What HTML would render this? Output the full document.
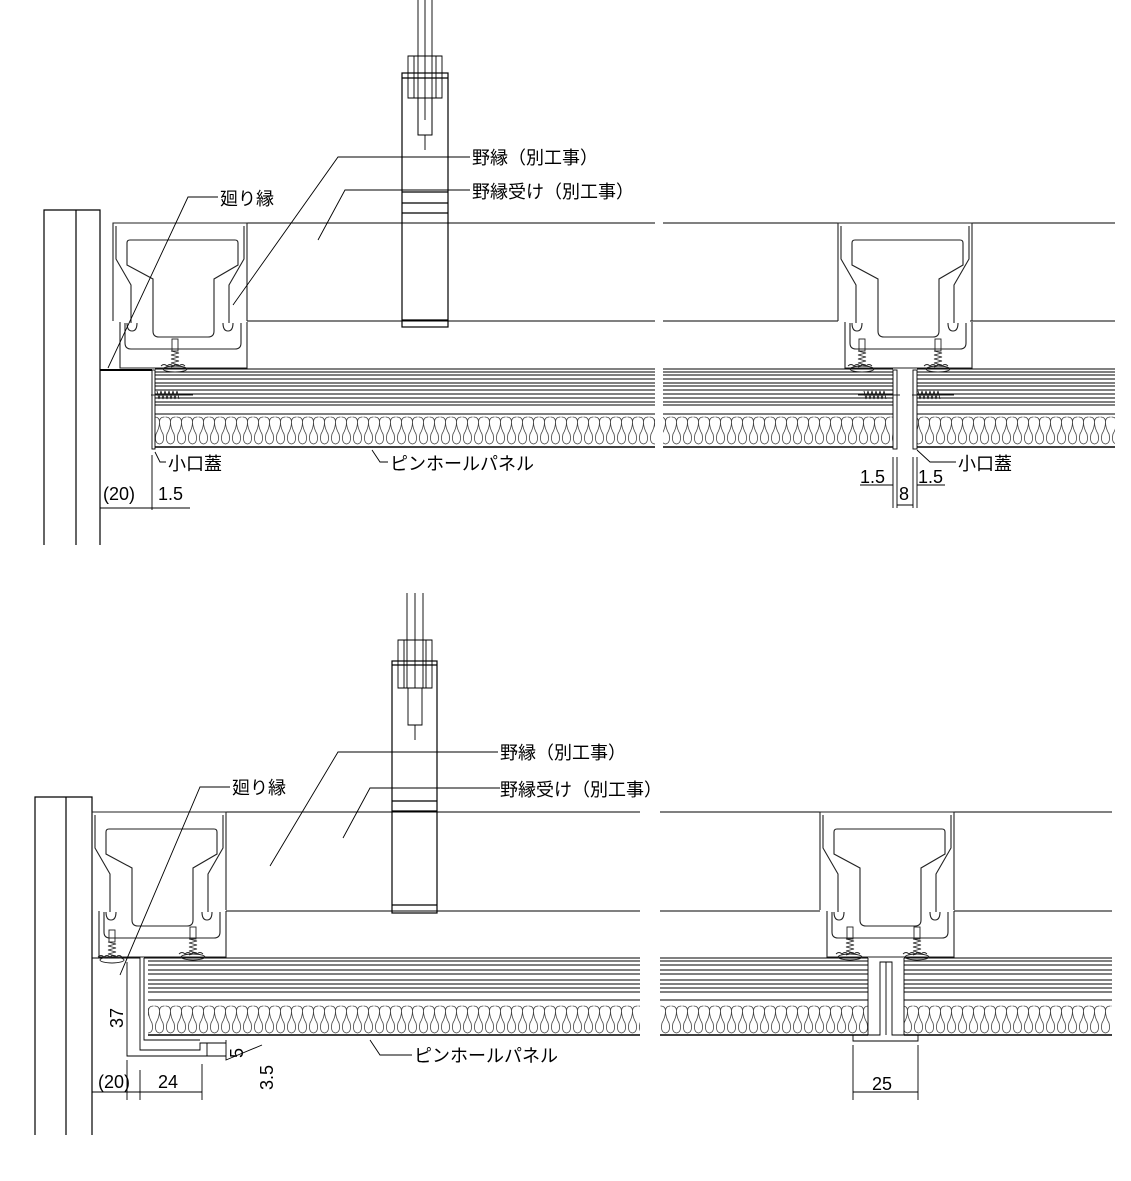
<!DOCTYPE html>
<html><head><meta charset="utf-8"><style>
html,body{margin:0;padding:0;background:#fff}
svg{display:block}
text{font-family:"Liberation Sans","Noto Sans CJK JP",sans-serif;fill:#000}
</style></head><body>
<svg width="1131" height="1181" viewBox="0 0 1131 1181" xmlns="http://www.w3.org/2000/svg">
<defs>
<pattern id="insT" x="0" y="416" width="11" height="30" patternUnits="userSpaceOnUse">
<path d="M0.5,1 Q5.5,1 5.5,6 Q5.5,12 2,18 Q0,27 5.5,28 Q11,27 9,18 Q5.5,12 5.5,6 Q5.5,1 10.5,1" fill="none" stroke="#444" stroke-width="0.8"/>
</pattern>
<pattern id="insB" x="0" y="1005" width="11" height="29" patternUnits="userSpaceOnUse">
<path d="M0.5,1 Q5.5,1 5.5,6 Q5.5,12 2,18 Q0,27 5.5,28 Q11,27 9,18 Q5.5,12 5.5,6 Q5.5,1 10.5,1" fill="none" stroke="#444" stroke-width="0.8"/>
</pattern>
<g id="prof" fill="none" stroke="#222" stroke-width="1.1">
<path d="M0,98 V0 H134 V98"/>
<path d="M3,3 V36 L18,62 V100 M131,3 V36 L116,62 V100"/>
<path d="M17,17 H122 Q125,17 125,20 V42 L101,56 V108 Q101,114 95,114 H46 Q40,114 40,108 V56 L14,42 V20 Q14,17 17,17Z"/>
<path d="M7,99 V145 H134 V99 M12,100 V120 Q12,126 18,126 H122 Q128,126 128,120 V100"/>
<path d="M14,100 Q14,108 19,108 Q24,108 24,100 M110,100 Q110,108 115,108 Q120,108 120,100"/>
</g>
<g id="scrV" fill="none" stroke="#222" stroke-width="0.9">
<rect x="-3" y="-28" width="6" height="12"/>
<path d="M-4,-16 L4,-14 L-4,-12 L4,-10 L-4,-8 L4,-6 L-4,-4 L4,-2 L-4,0"/>
<ellipse cx="0" cy="2" rx="12" ry="3"/>
<path d="M-14,-1 q3,-3 6,0 q3,-3 6,0 q3,-3 6,0 q3,-3 6,0" />
</g>
<g id="scrH" fill="none" stroke="#222" stroke-width="0.9">
<path d="M0,-4 L2,4 L4,-4 L6,4 L8,-4 L10,4 L12,-4 L14,4 L16,-4 L18,4 L20,-4 L22,4"/>
<line x1="-6" y1="0" x2="36" y2="0"/>
</g>
</defs>

<g stroke="#000" fill="none" stroke-width="1.2">
<path d="M44,545 V210 H100 V545 M76,210 V545"/>
<path d="M247,223 H655 M247,321 H655 M663,223 H838 M970,223 H1115 M663,321 H838 M970,321 H1115" stroke-width="1"/>
<path d="M418,0 V135 M432,0 V135 M425,0 V120" stroke-width="0.9"/>
<path d="M408,56 H442 V98 H408Z M414,56 V98 M436,56 V98" stroke-width="0.9"/>
<rect x="402" y="73" width="46" height="254"/>
<path d="M402,78 H448 M402,192 H448 M402,203 H448 M402,213 H448 M402,320 H448"/>
<path d="M418,98 V135 H432 V98 M425,135 V150" stroke-width="0.9"/>
</g>
<use href="#prof" x="113" y="223"/>
<use href="#prof" x="838" y="223"/>

<g stroke="#000" fill="none" stroke-width="0.9">
<path d="M100,370 H152" stroke-width="2"/>
<path d="M155,369 H655 M155,372 H655 M155,375 H655 M155,379 H655 M155,383 H655 M155,386 H655 M155,390 H655 M155,394 H655 M155,398 H655 M155,402 H655 M155,405 H655 M155,414 H655"/>
<path d="M663,369 H893 M663,372 H893 M663,375 H893 M663,379 H893 M663,383 H893 M663,386 H893 M663,390 H893 M663,394 H893 M663,398 H893 M663,402 H893 M663,405 H893 M663,414 H893"/>
<path d="M917,369 H1115 M917,372 H1115 M917,375 H1115 M917,379 H1115 M917,383 H1115 M917,386 H1115 M917,390 H1115 M917,394 H1115 M917,398 H1115 M917,402 H1115 M917,405 H1115 M917,414 H1115"/>
<rect x="155" y="416" width="500" height="30" fill="url(#insT)" stroke="none"/>
<rect x="663" y="416" width="230" height="30" fill="url(#insT)" stroke="none"/>
<rect x="917" y="416" width="198" height="30" fill="url(#insT)" stroke="none"/>
<path d="M155,447 H655 M663,447 H893 M917,447 H1115" stroke-width="1.6"/>
<rect x="152" y="370" width="3" height="79"/>
<rect x="893" y="370" width="4" height="79"/>
<rect x="913" y="370" width="4" height="79"/>
</g>
<use href="#scrV" x="175" y="367"/>
<use href="#scrV" x="862" y="367"/>
<use href="#scrV" x="938" y="367"/>
<use href="#scrH" x="157" y="395"/>
<use href="#scrH" x="864" y="395"/>
<use href="#scrH" x="918" y="395"/>

<g stroke="#000" fill="none" stroke-width="0.9">
<path d="M470,157 H338 L233,305"/>
<path d="M470,190 H345 L318,240"/>
<path d="M218,197 H188 L108,368"/>
<path d="M166,462 H160 L155,452"/>
<path d="M388,462 H380 L372,450"/>
<path d="M956,462 H930 L917,450"/>
<path d="M152,455 V510 M100,508 H190"/>
<path d="M893,457 V508 M897,457 V508 M913,457 V508 M917,457 V508 M860,485 H893 M917,485 H945 M897,505 H913"/>
</g>
<g font-size="18">
<text x="472" y="164">野縁（別工事）</text>
<text x="472" y="198">野縁受け（別工事）</text>
<text x="220" y="205">廻り縁</text>
<text x="168" y="470">小口蓋</text>
<text x="390" y="470">ピンホールパネル</text>
<text x="958" y="470">小口蓋</text>
<text x="103" y="500">(20)</text>
<text x="158" y="500">1.5</text>
<text x="860" y="483">1.5</text>
<text x="918" y="483">1.5</text>
<text x="899" y="500">8</text>
</g>

<g stroke="#000" fill="none" stroke-width="1.2">
<path d="M35,1135 V797 H92 V1135 M66,797 V1135"/>
<path d="M226,812 H640 M226,911 H640 M660,812 H820 M954,812 H1112 M660,911 H820 M954,911 H1112" stroke-width="1"/>
<path d="M407,593 V688 M423,593 V688 M415,593 V688" stroke-width="0.9"/>
<path d="M398,640 H432 V688 H398Z M404,640 V688 M426,640 V688" stroke-width="0.9"/>
<rect x="392" y="661" width="45" height="252"/>
<path d="M392,665 H437 M392,801 H437 M392,811 H437 M392,905 H437"/>
<path d="M408,688 V725 H422 V688 M415,725 V740" stroke-width="0.9"/>
</g>
<use href="#prof" x="92" y="812"/>
<use href="#prof" x="820" y="812"/>

<g stroke="#000" fill="none" stroke-width="0.9">
<path d="M92,958 H140 V1050 H200 V1043 H207 V1056 H127 V962"/>
<path d="M144,958 H640 M148,961 H640 M148,965 H640 M148,970 H640 M148,974 H640 M148,980 H640 M148,984 H640 M148,988 H640 M148,992 H640 M148,1000 H640"/>
<path d="M660,958 H868 M660,961 H868 M660,965 H868 M660,970 H868 M660,974 H868 M660,980 H868 M660,984 H868 M660,988 H868 M660,992 H868 M660,1000 H868"/>
<path d="M904,958 H1112 M904,961 H1112 M904,965 H1112 M904,970 H1112 M904,974 H1112 M904,980 H1112 M904,984 H1112 M904,988 H1112 M904,992 H1112 M904,1000 H1112"/>
<rect x="148" y="1005" width="492" height="29" fill="url(#insB)" stroke="none"/>
<rect x="660" y="1005" width="208" height="29" fill="url(#insB)" stroke="none"/>
<rect x="904" y="1005" width="208" height="29" fill="url(#insB)" stroke="none"/>
<path d="M148,1035 H640 M660,1035 H868 M904,1035 H1112" stroke-width="1.6"/>
<path d="M144,958 V1040 H200"/>
<path d="M868,958 V1035 M904,958 V1035"/>
<path d="M880,962 V1035 H853 V1041 H918 V1035 H892 V962 Z M886,962 V1035"/>
<path d="M500,788 H370 L343,838"/>
<path d="M498,752 H338 L270,866"/>
<path d="M230,787 H200 L120,975"/>
<path d="M412,1055 H380 L370,1040"/>
<path d="M127,1060 V1100 M140,1070 V1100 M202,1064 V1100 M92,1092 H202"/>
<path d="M207,1043 H226 M207,1056 H226 M226,1040 V1060 L262,1045"/>
<path d="M853,1045 V1100 M918,1045 V1100 M853,1092 H918"/>
</g>
<use href="#scrV" x="112" y="958"/>
<use href="#scrV" x="193" y="955"/>
<use href="#scrV" x="850" y="955"/>
<use href="#scrV" x="917" y="955"/>

<g font-size="18">
<text x="500" y="759">野縁（別工事）</text>
<text x="500" y="796">野縁受け（別工事）</text>
<text x="232" y="794">廻り縁</text>
<text x="414" y="1062">ピンホールパネル</text>
<text x="98" y="1088">(20)</text>
<text x="158" y="1088">24</text>
<text x="872" y="1090">25</text>
<text transform="translate(123,1028) rotate(-90)">37</text>
<text transform="translate(243,1058) rotate(-90)">5</text>
<text transform="translate(273,1090) rotate(-90)">3.5</text>
</g>
</svg>
</body></html>
